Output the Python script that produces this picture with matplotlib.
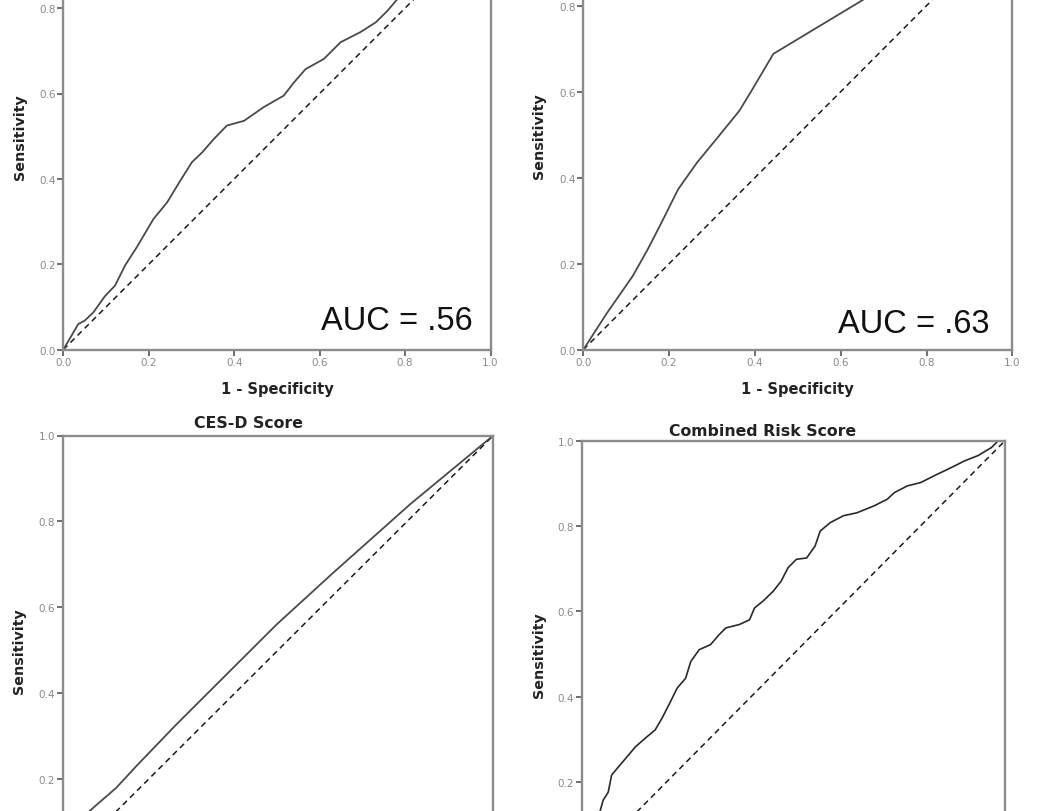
import matplotlib
matplotlib.use("Agg")
import matplotlib.pyplot as plt

W, H = 1050, 812

# ROC curve points (1 - specificity, sensitivity)
tl_fpr = [0.0, 0.035, 0.05, 0.07, 0.098, 0.121, 0.145, 0.172, 0.211, 0.243, 0.274,
          0.301, 0.325, 0.352, 0.383, 0.423, 0.469, 0.516, 0.540, 0.567, 0.610,
          0.649, 0.696, 0.732, 0.759, 0.782, 0.85, 0.92, 1.0]
tl_tpr = [0.0, 0.06, 0.068, 0.087, 0.126, 0.15, 0.198, 0.24, 0.306, 0.345, 0.396,
          0.439, 0.462, 0.493, 0.525, 0.536, 0.568, 0.595, 0.626, 0.657, 0.681,
          0.720, 0.744, 0.767, 0.794, 0.821, 0.88, 0.95, 1.0]

tr_fpr = [0.0, 0.055, 0.115, 0.150, 0.182, 0.221, 0.265, 0.316, 0.364, 0.395,
          0.443, 0.656, 1.0]
tr_tpr = [0.0, 0.085, 0.171, 0.233, 0.295, 0.373, 0.435, 0.497, 0.556, 0.607,
          0.688, 0.816, 1.0]

cesd_fpr = [0.0, 0.03, 0.062, 0.124, 0.171, 0.264, 0.396, 0.497, 0.629, 0.807, 1.0]
cesd_tpr = [0.0, 0.06, 0.125, 0.179, 0.230, 0.327, 0.459, 0.560, 0.681, 0.840, 1.0]

comb_fpr = [0.0, 0.02, 0.035, 0.042, 0.050, 0.062, 0.070, 0.086, 0.110, 0.126, 0.149,
            0.173, 0.189, 0.205, 0.225, 0.245, 0.257, 0.277, 0.304, 0.324, 0.340,
            0.372, 0.396, 0.408, 0.428, 0.452, 0.471, 0.487, 0.507, 0.531, 0.551,
            0.563, 0.587, 0.618, 0.650, 0.690, 0.722, 0.738, 0.769, 0.801, 0.833,
            0.873, 0.905, 0.936, 0.968, 0.984, 1.0]
comb_tpr = [0.0, 0.04, 0.09, 0.129, 0.157, 0.176, 0.216, 0.235, 0.263, 0.282, 0.302,
            0.322, 0.349, 0.380, 0.420, 0.443, 0.482, 0.510, 0.522, 0.545, 0.561,
            0.569, 0.580, 0.608, 0.624, 0.647, 0.671, 0.702, 0.722, 0.725, 0.753,
            0.788, 0.808, 0.824, 0.831, 0.847, 0.863, 0.878, 0.894, 0.902, 0.918,
            0.937, 0.953, 0.965, 0.984, 1.0, 1.0]

ticks = [0.0, 0.2, 0.4, 0.6, 0.8, 1.0]
tick_labels = ["0.0", "0.2", "0.4", "0.6", "0.8", "1.0"]

SPINE = "#8c8c8c"
LABEL_FONT = "DejaVu Sans"


def px_axes(fig, x0, x1, ytop, ybot):
    # pixel box -> figure fraction (panels run past the edges of the crop)
    return fig.add_axes([x0 / W, (H - ybot) / H, (x1 - x0) / W, (ybot - ytop) / H])


def roc_panel(ax, fpr, tpr, color="#4a4a4a", lw=1.3, title=None, title_xy=(0.43, 1.03),
              auc=None, auc_pos=None):
    ax.plot([0, 1], [0, 1], color="#1a1a1a", lw=1.1, linestyle=(0, (3.8, 2.8)))
    ax.plot(fpr, tpr, color=color, lw=lw, solid_joinstyle="round")
    ax.set_xlim(0, 1)
    ax.set_ylim(0, 1)
    ax.set_xticks(ticks)
    ax.set_yticks(ticks)
    ax.set_xticklabels(tick_labels)
    ax.set_yticklabels(tick_labels)
    ax.tick_params(length=4, width=1.2, color="#555555", labelcolor="#8a8a8a",
                   labelsize=7.5, pad=1.5)
    for s in ax.spines.values():
        s.set_color(SPINE)
        s.set_linewidth(1.7)
    ax.set_xlabel("1 - Specificity", family=LABEL_FONT, fontweight="bold",
                  fontsize=10.5, color="#222222")
    ax.set_ylabel("Sensitivity", family=LABEL_FONT, fontweight="bold",
                  fontsize=10.3, color="#222222")
    ax.xaxis.set_label_coords(0.5, -0.073)
    ax.yaxis.set_label_coords(-0.086, 0.5)
    if title:
        ax.text(title_xy[0], title_xy[1], title, transform=ax.transAxes, ha="center",
                va="center", family=LABEL_FONT, fontweight="bold", fontsize=11.3,
                color="#222222")
    if auc:
        ax.text(auc_pos[0], auc_pos[1], auc, transform=ax.transAxes, ha="right",
                va="baseline", family="Liberation Sans", fontsize=23.5,
                color="#111111")


fig = plt.figure(figsize=(W / 100, H / 100), dpi=100)

ax1 = px_axes(fig, 63.3, 490.5, 350.7 - 427, 350.7)
roc_panel(ax1, tl_fpr, tl_tpr, auc="AUC = .56", auc_pos=(0.957, 0.048))

ax2 = px_axes(fig, 583.3, 1012.3, 350.7 - 430, 350.7)
roc_panel(ax2, tr_fpr, tr_tpr, auc="AUC = .63", auc_pos=(0.948, 0.041))

ax3 = px_axes(fig, 63, 493.3, 436.5, 865.5)
roc_panel(ax3, cesd_fpr, cesd_tpr, title="CES-D Score", title_xy=(0.432, 1.031))

ax4 = px_axes(fig, 582, 1005, 441.7, 868.2)
roc_panel(ax4, comb_fpr, comb_tpr, color="#2a2a2a", lw=1.2,
          title="Combined Risk Score", title_xy=(0.428, 1.025))

fig.savefig("out.png", dpi=100)
